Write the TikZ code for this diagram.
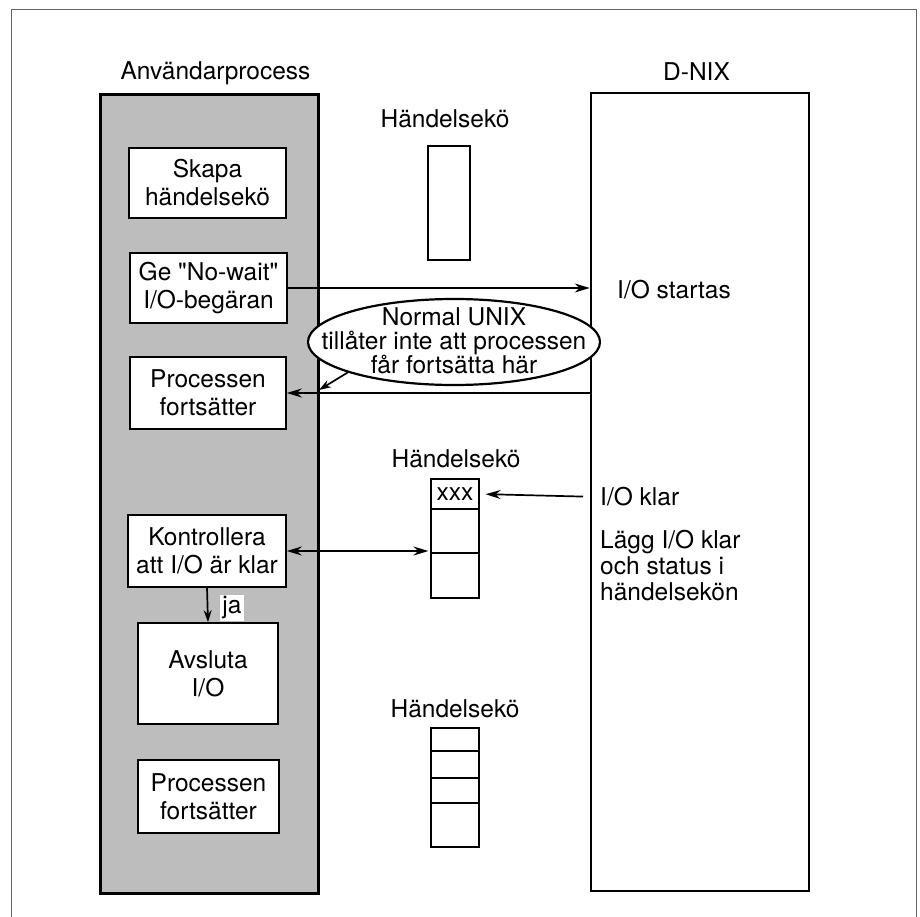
\documentclass[tikz,border=0pt]{standalone}
\usepackage{fontspec}
\setmainfont{TeX Gyre Heros}[Ligatures=TeXOff]
\usetikzlibrary{arrows.meta,shapes.geometric}
\begin{document}
\begin{tikzpicture}[x=1pt,y=-1pt,
  every node/.style={font=\fontsize{24.5}{28}\selectfont},
  panel/.style={draw, rectangle, inner sep=0pt, minimum width=218pt, minimum height=798pt},
  procbox/.style={draw, line width=1.6pt, fill=white, align=center, inner sep=0pt},
  qcell/.style={draw, line width=1.2pt, fill=white, inner sep=0pt, minimum width=48pt},
  lbl/.style={inner sep=0pt},
  arr/.style={-{Stealth[length=15pt,width=9pt]}, line width=1.7pt},
  darr/.style={{Stealth[length=15pt,width=9pt]}-{Stealth[length=15pt,width=9pt]}, line width=1.7pt},
  sarr/.style={-{Stealth[length=12pt,width=8pt]}, line width=1.7pt}]
\useasboundingbox (0,0) rectangle (920,917);
% outer frame (open at the bottom)
\coordinate (f1) at (11,917);
\coordinate (f2) at (11,10);
\coordinate (f3) at (916,10);
\coordinate (f4) at (916,917);
\draw[line width=1pt, black!60] (f1) -- (f2) -- (f3) -- (f4);

% panels
\node[panel, line width=3pt, fill=black!26] (user) at (209,494) {};
\node[panel, line width=2.5pt, fill=white] (dnix) at (700,492) {};
\node[lbl, anchor=base] (usertitle) at (215.5,80) {Användarprocess};
\node[lbl, anchor=base] (dnixtitle) at (696.5,81) {D-NIX};

% process boxes
\node[procbox, minimum width=157pt, minimum height=70pt] (skapa) at (207.5,183) {Skapa\\händelsekö};
\node[procbox, minimum width=157pt, minimum height=70pt] (nowait) at (208.5,288) {Ge "No-wait"\\I/O-begäran};
\node[procbox, minimum width=156pt, minimum height=72pt] (proc1) at (208,393) {Processen\\fortsätter};
\node[procbox, minimum width=158pt, minimum height=72pt] (kontr) at (207,551) {Kontrollera\\att I/O är klar};
\node[procbox, minimum width=140pt, minimum height=101pt] (avsl) at (208,673.5) {Avsluta\\I/O};
\node[procbox, minimum width=141pt, minimum height=73pt] (proc2) at (208.5,796.5) {Processen\\fortsätter};

% queue 1
\node[lbl, anchor=base] (q1label) at (445,128) {Händelsekö};
\node[qcell, minimum width=42pt, minimum height=114pt] (q1) at (449,203) {};

% queue 2
\node[lbl, anchor=base] (q2label) at (456,467) {Händelsekö};
\node[qcell, minimum height=30pt] (q2a) at (455,494) {xxx};
\node[qcell, minimum height=44pt] (q2b) at (455,531) {};
\node[qcell, minimum height=45pt] (q2c) at (455,575.5) {};

% queue 3
\node[lbl, anchor=base] (q3label) at (455,717) {Händelsekö};
\node[qcell, minimum height=23pt] (q3a) at (455,739.5) {};
\node[qcell, minimum height=27pt] (q3b) at (455,764.5) {};
\node[qcell, minimum height=25pt] (q3c) at (455,790.5) {};
\node[qcell, minimum height=44pt] (q3d) at (455,825) {};

% D-NIX texts
\node[lbl, anchor=west] (startas) at (617,290) {I/O startas};
\node[lbl, anchor=west] (klar) at (600,497) {I/O klar};
\node[lbl, anchor=west, align=left, font=\fontsize{24.5}{26}\selectfont] (lagg) at (600,566) {Lägg I/O klar\\och status i\\händelsekön};

% arrows
\draw[arr] (nowait.east) -- (nowait.east -| dnix.west);
\draw[arr] (proc1.east -| dnix.west) -- (proc1.east);
\draw[arr, shorten <=17pt, shorten >=6pt] (klar.west) -- (q2a.east);
\draw[darr, shorten >=2pt] (kontr.east) -- (kontr.east -| q2c.west);
\draw[sarr] (kontr.south) -- (avsl.north);
\node[fill=white, inner sep=2pt] (ja) at (232,608) {ja};

% note ellipse
\node[ellipse, draw, line width=2.2pt, fill=white, minimum width=292pt, minimum height=86pt, inner sep=0pt] (note) at (454,342) {};
\node[lbl, align=center, font=\fontsize{24.5}{24}\selectfont] (notetext) at (454,341) {Normal UNIX\\tillåter inte att processen\\får fortsätta här};
\coordinate (tip) at (319,390);
\draw[sarr] (note.196) -- (tip);
\end{tikzpicture}
\end{document}
